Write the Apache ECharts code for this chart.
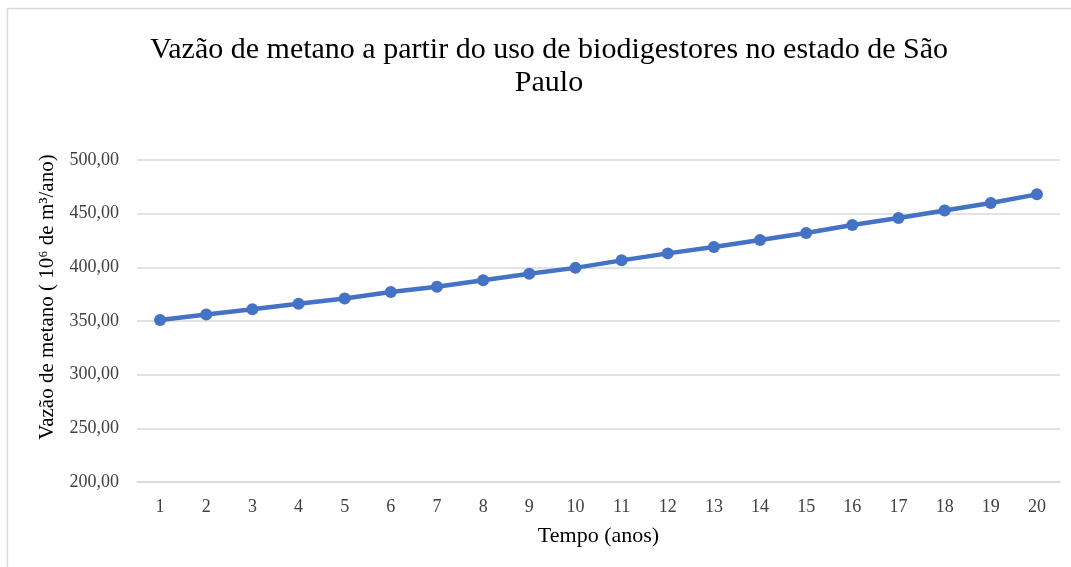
<!DOCTYPE html>
<html>
<head>
<meta charset="utf-8">
<script src="https://cdn.jsdelivr.net/npm/echarts@6/dist/echarts.min.js"></script>
<style>
  html, body { margin: 0; padding: 0; background: #fff; }
  #main { width: 1071px; height: 567px; }
</style>
</head>
<body>
<div id="main"></div>
<script>
// dados
var anos = ['1','2','3','4','5','6','7','8','9','10','11','12','13','14','15','16','17','18','19','20'];
var vazao = [351, 356, 361, 366, 371, 377, 382, 388, 394, 399.5, 406.5, 413, 419, 425.5, 432, 439.5, 446, 453, 460, 468];
var yMin = 200, yMax = 500, yStep = 50;

var serif = "'Liberation Serif', 'DejaVu Serif', serif";
var chart = echarts.init(document.getElementById('main'));

var option = {
  backgroundColor: '#ffffff',
  animation: false,
  title: {
    text: 'Vazão de metano a partir do uso de biodigestores no estado de São\nPaulo',
    left: 544,
    top: 29,
    textAlign: 'center',
    textStyle: {
      fontFamily: serif,
      fontSize: 30,
      fontWeight: 'normal',
      color: '#000',
      lineHeight: 33
    }
  },
  graphic: [{
    type: 'rect',
    shape: { x: 7.5, y: 8.5, width: 1100, height: 600 },
    style: { fill: 'none', stroke: '#d9d9d9', lineWidth: 1.5 },
    silent: true
  }],
  grid: { left: 137, right: 11, top: 160, bottom: 85 },
  xAxis: {
    type: 'category',
    data: anos,
    boundaryGap: true,
    name: 'Tempo (anos)',
    nameLocation: 'middle',
    nameGap: 43,
    nameTextStyle: { fontFamily: serif, fontSize: 22, color: '#000' },
    axisLine: { lineStyle: { color: '#d9d9d9', width: 1.5 } },
    axisTick: { show: false },
    axisLabel: { fontFamily: serif, fontSize: 18, color: '#404040', margin: 16 }
  },
  yAxis: {
    type: 'value',
    min: yMin,
    max: yMax,
    interval: yStep,
    name: 'Vazão de metano ( 10⁶ de m³/ano)',
    nameLocation: 'middle',
    nameGap: 79,
    nameTextStyle: { fontFamily: serif, fontSize: 21, color: '#000', padding: [0, 0, 0, 48] },
    axisLine: { show: false },
    axisTick: { show: false },
    splitLine: { lineStyle: { color: '#d9d9d9', width: 1.5 } },
    axisLabel: {
      fontFamily: serif, fontSize: 18, color: '#404040', margin: 18,
      formatter: function (v) { return v.toFixed(2).replace('.', ','); }
    }
  },
  series: [{
    name: 'Vazão',
    type: 'line',
    data: vazao,
    symbol: 'circle',
    symbolSize: 12,
    lineStyle: { color: '#4472C4', width: 4.5 },
    itemStyle: { color: '#4472C4' }
  }]
};

chart.setOption(option);
</script>
</body>
</html>
